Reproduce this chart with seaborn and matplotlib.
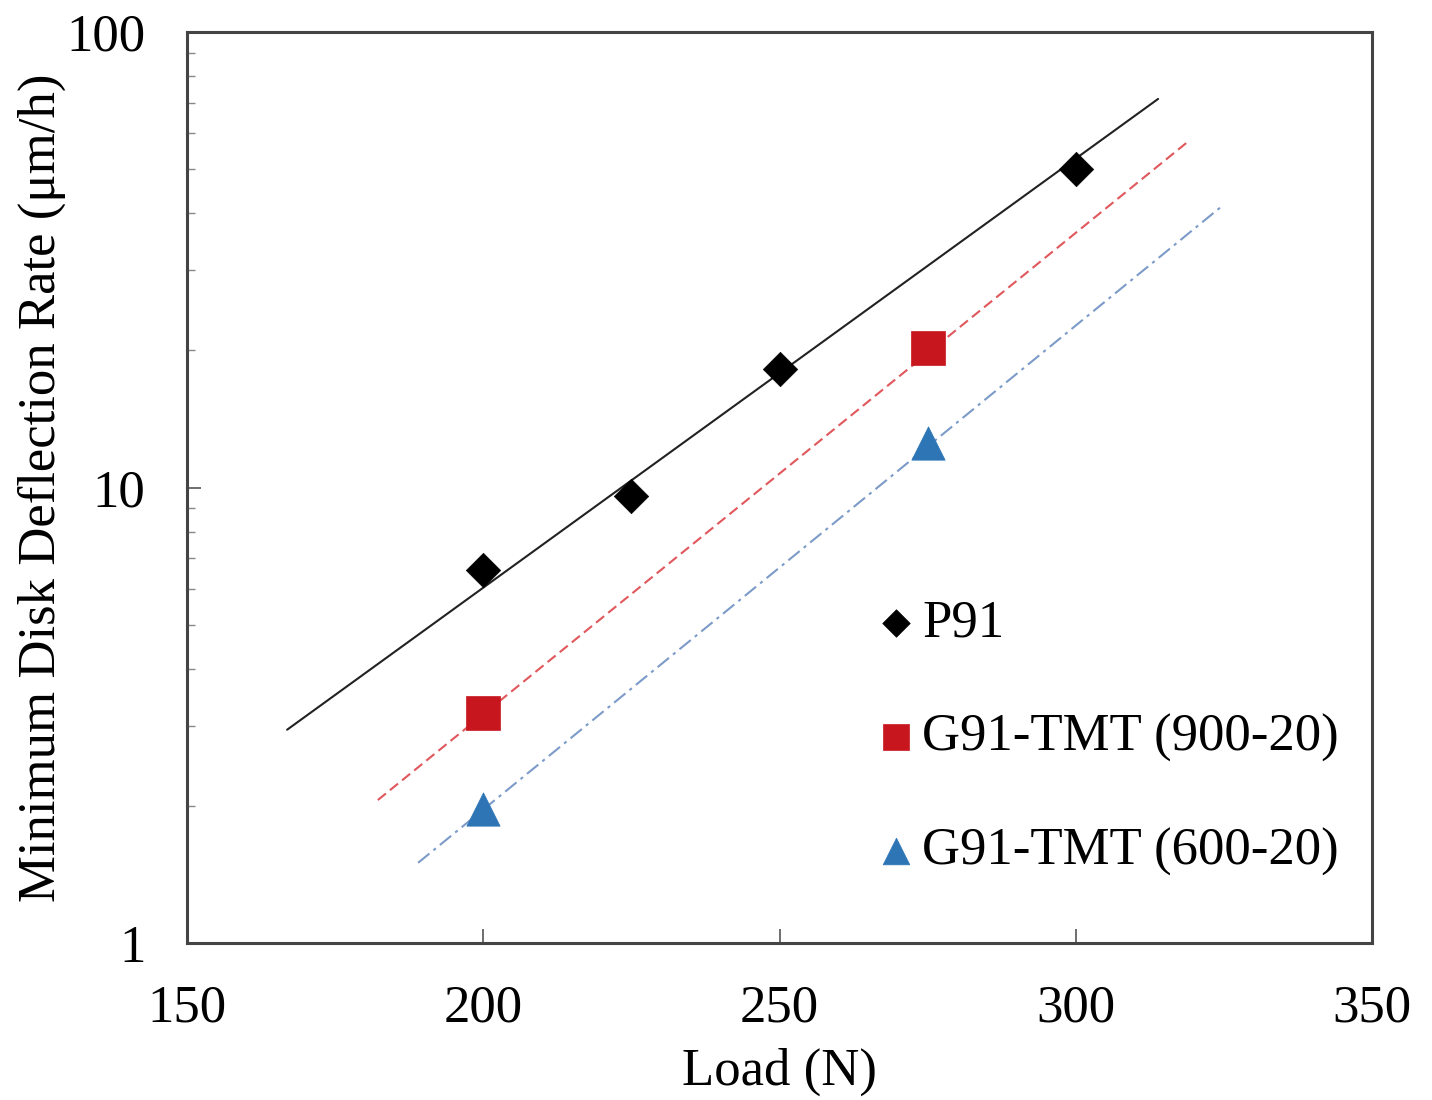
import numpy as np
import pandas as pd
import matplotlib
matplotlib.use("Agg")
import matplotlib.pyplot as plt
import seaborn as sns
from matplotlib.ticker import FixedLocator, FixedFormatter, LogLocator, NullFormatter

# ---- data ----
series_names = ["P91", "G91-TMT (900-20)", "G91-TMT (600-20)"]

p91_load = [200, 225, 250, 300]
p91_rate = [6.6, 9.6, 18.2, 50.0]

g900_load = [200, 275]
g900_rate = [3.2, 20.2]

g600_load = [200, 275]
g600_rate = [1.97, 12.5]

# trend line end points (load, rate)
p91_fit_load = [166.9, 313.9]
p91_fit_rate = [2.94, 71.3]
g900_fit_load = [182.2, 318.9]
g900_fit_rate = [2.06, 57.4]
g600_fit_load = [189.0, 324.7]
g600_fit_rate = [1.50, 41.5]

x_ticks = [150, 200, 250, 300, 350]
y_ticks = [1, 10, 100]
y_tick_labels = ["1", "10", "100"]

# ---- style ----
sns.set_theme(style="white")
plt.rcParams['font.family'] = ['Liberation Serif', 'DejaVu Serif']
plt.rcParams['text.color'] = 'black'
plt.rcParams['axes.labelcolor'] = 'black'
plt.rcParams['xtick.color'] = 'black'
plt.rcParams['ytick.color'] = 'black'

fig = plt.figure(figsize=(14.32, 11.0), dpi=100)
ax = fig.add_axes([0.1306, 0.1427, 0.8275, 0.8282])

colors = ["#000000", "#C8161E", "#2E75B6"]
line_colors = ["#222222", "#E0575C", "#7C9BC8"]
line_styles = ["-", (0, (5, 2.5)), (0, (7, 2.5, 1.5, 2.5))]
markers = ["D", "s", "^"]
sizes = [17.5, 24.0, 24.0]

fits = [(p91_fit_load, p91_fit_rate), (g900_fit_load, g900_fit_rate), (g600_fit_load, g600_fit_rate)]
pts = [(p91_load, p91_rate), (g900_load, g900_rate), (g600_load, g600_rate)]

for i, name in enumerate(series_names):
    fx, fy = fits[i]
    sns.lineplot(x=fx, y=fy, ax=ax, color=line_colors[i], linewidth=1.5, legend=False)
    ax.lines[-1].set_linestyle(line_styles[i])

for i, name in enumerate(series_names):
    px, py = pts[i]
    sns.scatterplot(x=px, y=py, ax=ax, marker=markers[i], color=colors[i],
                    s=sizes[i] ** 2, edgecolor=colors[i], linewidth=0.5,
                    label=name, zorder=5)

ax.set_yscale("log")
ax.set_xlim(150, 350)
ax.set_ylim(1, 100)

ax.xaxis.set_major_locator(FixedLocator(x_ticks))
ax.yaxis.set_major_locator(FixedLocator(y_ticks))
ax.yaxis.set_major_formatter(FixedFormatter(y_tick_labels))
ax.yaxis.set_minor_locator(LogLocator(base=10, subs=np.arange(2, 10)))
ax.yaxis.set_minor_formatter(NullFormatter())

ax.tick_params(axis="both", which="major", direction="in", length=10, width=1.2,
               color="#555555", labelcolor="black", labelsize=38, pad=30)
ax.tick_params(axis="y", which="minor", direction="in", length=6, width=1.0,
               color="#888888", left=True)
ax.tick_params(axis="x", which="major", top=False, bottom=True)
ax.tick_params(axis="y", which="major", left=True, right=False)

for sp in ax.spines.values():
    sp.set_visible(True)
    sp.set_color("#444444")
    sp.set_linewidth(2.2)

ax.set_xlabel("Load (N)", fontsize=38, labelpad=11, color="black")
ax.set_ylabel("Minimum Disk Deflection Rate (μm/h)", fontsize=38, labelpad=0, color="black")

leg = ax.legend(loc="upper left", bbox_to_anchor=(0.567, 0.400), frameon=False,
                fontsize=38, handlelength=0.6, handletextpad=0.2,
                labelspacing=1.25, borderaxespad=0, markerscale=0.8)
for t in leg.get_texts():
    t.set_color("black")

fig.savefig("out.png", dpi=100)
